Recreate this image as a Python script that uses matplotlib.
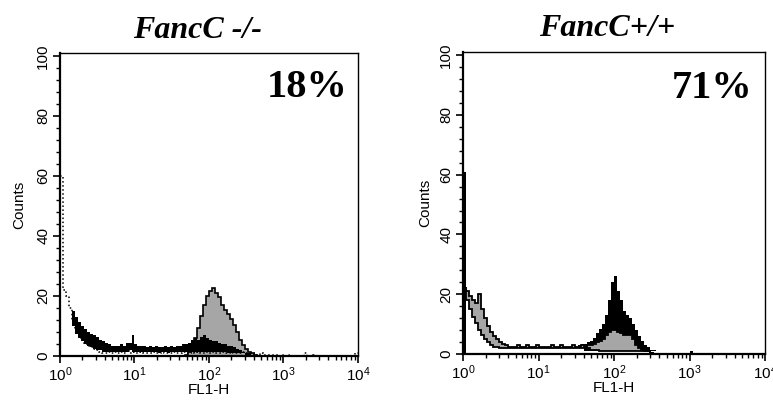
import numpy as np
import matplotlib
matplotlib.use("Agg")
import matplotlib.pyplot as plt
from matplotlib.ticker import MultipleLocator, LogLocator

plt.rcParams['font.family'] = ['Liberation Sans', 'DejaVu Sans']
plt.rcParams['mathtext.fontset'] = 'custom'
plt.rcParams['mathtext.rm'] = 'Liberation Sans'

# channel bins: 0.04 decade wide, 10^0 .. 10^4
edges = 10 ** (np.arange(101) * 0.04)

titles = ["FancC -/-", "FancC+/+"]
percents = ["18%", "71%"]

# ---- FancC -/- panel ----
L_dot = [60, 22, 20, 16, 12, 9, 7, 5.5, 4.5, 3.5,
         3, 2.5, 2, 1.5, 1, 1, 1.5, 1, 1.5, 1,
         1.5, 1, 2, 1, 1.5, 1, 1, 1.5, 1, 1,
         1, 1.5, 1, 1, 1.5, 1, 1, 1, 1.5, 1,
         1, 1.5, 1, 1, 1.5, 1, 1.5, 1, 1, 1.5,
         1, 1.5, 1, 1, 1.5, 1, 1, 1.5, 1, 1,
         1, 1.5, 1, 0.5, 1, 0.5, 0.5, 1, 0.5, 0.5,
         0.5, 0.5, 0.5, 0, 0.5, 0, 0.5, 0, 0, 0,
         0, 0, 1, 0, 0, 0.5, 0, 0, 0, 0,
         0, 0, 0, 0, 0, 0, 0, 0, 0, 1]

L_gray = [0] * 40 + [
         0, 0, 0.5, 1.5, 3, 6, 9.5, 13.5, 17, 20,
         21.5, 22.7, 21, 19.7, 17, 15.5, 14, 12.5, 10.5, 8,
         5.5, 3.7, 2.5, 1.5, 1, 0.5, 0, 0, 0, 0] + [0] * 30

L_black_hi = [0, 0, 0, 0, 15, 13, 11.5, 10, 9, 8,
              7.5, 7, 6.5, 5.5, 5, 4.5, 4, 3.5, 3.5, 3.5,
              4, 3.5, 4.5, 4.5, 7, 4, 3.5, 3.5, 3.5, 3,
              3.5, 3, 3.5, 3, 3, 3.5, 3, 3.5, 3, 3.5,
              3.5, 4, 4, 4.5, 5.5, 6, 5.5, 6.5, 7, 6,
              5.5, 5, 5, 4.5, 4, 4, 3.5, 3.5, 3, 2.5,
              2, 1.5, 1, 1, 0.5, 0.5, 0, 0, 0, 0] + [0] * 30
L_black_lo = [0, 0, 0, 0, 10, 7.5, 6, 5, 4, 3.5,
              3, 2.5, 2, 2, 1.5, 1.5, 1.5, 1.5, 1.5, 1.5,
              1.5, 1.5, 1.5, 2, 1.5, 1.5, 1.5, 1.5, 1.5, 1.5,
              1.5, 1.5, 1.5, 1, 1.5, 1.5, 1, 1.5, 1.5, 1.5,
              1.5, 1.5, 1.5, 1.5, 1.5, 1.5, 1.5, 1.5, 1.5, 1.5,
              1.5, 1.5, 1.5, 1.5, 1.5, 1.5, 1, 1, 1, 1,
              1, 1, 0.5, 0.5, 0, 0, 0, 0, 0, 0] + [0] * 30

# ---- FancC+/+ panel ----
R_gray_hi = [22, 21, 19.5, 18, 17, 20, 15, 12, 9.5, 7.5,
             6, 5, 4, 3.5, 3, 2.5, 2.5, 2.5, 3, 2.5,
             2.5, 3, 2.5, 2.5, 3, 2.5, 2.5, 2.5, 2.5, 3,
             2.5, 2.5, 3, 2.5, 2.5, 2.5, 3, 2.5, 2.5, 3,
             2.5, 3, 3, 3.5, 4, 4.5, 5, 6.5, 7.5, 8,
             8, 7.5, 7, 6.5, 6.5, 6.5, 5, 3, 2, 1.5,
             1, 1, 0.5, 0, 0, 0, 0, 0, 0, 0] + [0] * 30
R_gray_lo = [22, 18, 15, 12.5, 10.5, 8, 6.5, 5, 4, 3,
             2.5, 2.5, 2, 2, 2, 2, 2, 2, 2, 2,
             2, 2, 2, 2, 2, 2, 2, 2, 2, 2,
             2, 2, 2, 2, 2, 2, 2, 2, 2, 2,
             2, 2, 1.5, 1.5, 1.5, 1, 1, 1, 1, 1,
             1, 1, 1, 1, 1, 1, 1, 1, 1, 1,
             1, 1, 0.5, 0, 0, 0, 0, 0, 0, 0] + [0] * 30

R_black_hi = [61] + [0] * 35 + [3, 2.5, 3, 3.5,
              3.5, 4, 4.5, 5.5, 7, 8.5, 10, 13, 18, 24,
              26, 21, 18, 14.5, 13, 12, 10, 8, 6, 4.5,
              3, 2.3, 1.5, 1.5, 1, 1, 0.5, 0.5, 0.5, 0.5,
              0.5, 0, 0, 0, 0, 1, 0, 0, 0, 0] + [0] * 20
R_black_lo = [0] * 36 + [2, 2, 2, 2] + [1] * 26 + [0] * 34


def style_axes(ax, ypad):
    ax.set_xscale('log')
    ax.set_xlim(1, 1e4)
    ax.set_ylim(0, 101)
    ax.yaxis.set_major_locator(MultipleLocator(20))
    ax.yaxis.set_minor_locator(MultipleLocator(4))
    ax.xaxis.set_major_locator(LogLocator(base=10))
    ax.xaxis.set_minor_locator(LogLocator(base=10, subs=np.arange(2, 10)))
    ax.tick_params(which='major', direction='out', length=5, width=1.2, labelsize=11)
    ax.tick_params(which='minor', direction='out', length=3, width=1.0)
    ax.tick_params(axis='y', pad=2)
    ax.tick_params(axis='x', pad=2)
    for lab in ax.get_yticklabels():
        lab.set_rotation(90)
        lab.set_va('center')
    for s in ['left', 'bottom']:
        ax.spines[s].set_linewidth(1.6)
    for s in ['top', 'right']:
        ax.spines[s].set_linewidth(1.0)
    ax.set_xlabel("FL1-H", fontsize=11, labelpad=-1)
    ax.set_ylabel("Counts", fontsize=11, labelpad=ypad)


fig = plt.figure(figsize=(7.73, 4.03), dpi=100)
ax1 = fig.add_axes([0.0776, 0.1166, 0.3855, 0.752])
ax2 = fig.add_axes([0.599, 0.1216, 0.3907, 0.749])

# left panel
ax1.stairs(L_gray, edges, baseline=0, fill=True, color='#a6a6a6', zorder=1)
ax1.stairs(L_gray, edges, baseline=None, color='black', lw=1.2, zorder=2)
ax1.stairs(L_dot, edges, baseline=None, color='black', lw=1.1, ls=':', zorder=2)
ax1.stairs(L_black_hi, edges, baseline=L_black_lo, fill=True, color='black', zorder=3)

# right panel
ax2.stairs(R_black_hi, edges, baseline=R_black_lo, fill=True, color='black', zorder=1)
ax2.stairs(R_gray_hi, edges, baseline=R_gray_lo, fill=True, color='#a6a6a6', zorder=2)
ax2.stairs(R_gray_hi, edges, baseline=None, color='black', lw=1.3, zorder=3)
ax2.stairs(R_gray_lo, edges, baseline=None, color='black', lw=1.3, zorder=3)

style_axes(ax1, 7)
style_axes(ax2, 5)

serif = ['Liberation Serif', 'DejaVu Serif']
fig.text(0.256, 0.925, titles[0], ha='center', va='center', fontsize=23,
         fontweight='bold', fontstyle='italic', family=serif)
fig.text(0.785, 0.93, titles[1], ha='center', va='center', fontsize=23,
         fontweight='bold', fontstyle='italic', family=serif)
fig.text(0.449, 0.759, percents[0], ha='right', va='baseline', fontsize=29,
         fontweight='bold', family=serif)
fig.text(0.973, 0.757, percents[1], ha='right', va='baseline', fontsize=29,
         fontweight='bold', family=serif)

fig.savefig("out.png", dpi=100)
